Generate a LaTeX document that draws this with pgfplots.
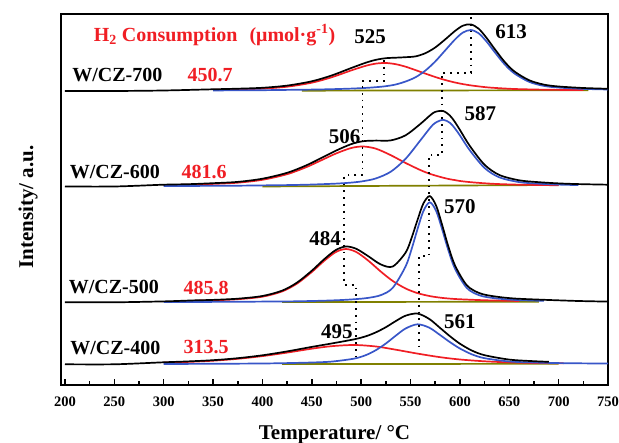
\documentclass[border=0pt]{standalone}
\usepackage{fontspec}
\setmainfont{Liberation Serif}
\usepackage{pgfplots}
\pgfplotsset{compat=1.18}
\definecolor{cred}{RGB}{240,30,36}
\definecolor{cblue}{RGB}{56,86,200}
\definecolor{colive}{RGB}{128,128,0}
\newcommand{\lbl}{\bfseries\fontsize{20}{24}\selectfont}
\newcommand{\pk}{\bfseries\fontsize{21}{24}\selectfont}
\begin{document}
\begin{tikzpicture}
\begin{axis}[
 width=547pt, height=371pt, scale only axis,
 xmin=195.95, xmax=750, ymin=58, ymax=429,
 axis line style={line width=2pt},
 xtick={200,250,...,750}, minor x tick num=1,
 xtick pos=left, tick align=inside, ytick=\empty,
 major tick length=5.5pt, minor tick length=3.5pt,
 every tick/.style={black, line width=1.5pt},
 /pgf/number format/assume math mode=true,
 xticklabel style={font=\bfseries\fontsize{14.5}{16}\selectfont, anchor=center, yshift=-17pt},
 xlabel={Temperature/ °C}, ylabel={Intensity/ a.u.},
 xlabel style={font=\bfseries\fontsize{21}{24}\selectfont, at={(axis description cs:0.5,-0.135)}, anchor=center},
 ylabel style={font=\bfseries\fontsize{21}{24}\selectfont, at={(axis description cs:-0.06,0.48)}, anchor=center},
 clip=false,
 every axis plot/.append style={line width=1.7pt},
 smooth,
]
% olive baselines
\addplot[colive, sharp plot] coordinates {(440,352.3)(730,352.8)};
\addplot[colive, sharp plot] coordinates {(400,256.5)(700,258)};
\addplot[colive, sharp plot] coordinates {(420,140.9)(680,141.3)};
\addplot[colive, sharp plot] coordinates {(420,78.9)(700,79.2)};

% ---------- W/CZ-700 ----------
\addplot[cred] coordinates {(350,353.2)(375,353.6)(400,354.4)(425,356.3)(450,360.3)(470,365.7)(490,372.6)(505,377.3)(515,379.4)(525,380.0)(535,378.8)(545,376.3)(555,372.9)(565,369.4)(575,366.0)(585,363.0)(595,360.5)(603,358.9)(611,357.6)(619,356.6)(627,355.7)(635,355.1)(645,354.5)(655,354.0)(670,353.6)(685,353.3)(700,353.1)(725,352.9)};
\addplot[cblue] coordinates {(350,352.5)(375,352.7)(400,352.8)(425,353.1)(450,353.4)(470,353.8)(490,354.4)(505,355.1)(515,355.8)(525,356.8)(535,358.5)(545,361.5)(555,365.7)(565,372.4)(575,381.5)(585,392.5)(595,403.5)(603,410.4)(611,413.0)(619,409.7)(627,401.4)(635,391.2)(645,379.0)(655,369.7)(670,361.2)(685,357.1)(700,355.4)(725,354.1)(750,353.5)};
\addplot[black] coordinates {(200,352)(250,352)(300,352.5)(350,353.7)(375,354.3)(400,355.2)(425,357.4)(450,361.7)(470,367.5)(490,375.0)(505,380.4)(515,383.2)(525,384.8)(535,385.3)(545,385.8)(555,386.6)(565,389.8)(575,395.5)(585,403.5)(595,412.0)(603,417.3)(611,418.6)(619,414.3)(627,405.1)(635,394.3)(645,381.5)(655,371.7)(670,362.8)(685,358.4)(700,356.5)(725,355.0)(750,354.2)};

% ---------- W/CZ-600 ----------
\addplot[cred] coordinates {(300,257.9)(325,258.3)(350,259.1)(375,260.3)(400,263.2)(425,268.8)(445,276.1)(460,282.9)(475,289.7)(490,295.0)(502,296.5)(515,294.3)(530,287.8)(545,280.0)(560,272.9)(570,269.0)(575,267.5)(583,265.3)(590,263.7)(595,262.9)(600,262.0)(610,260.9)(625,259.7)(640,258.9)(660,258.3)(680,258.0)(700,257.7)};
\addplot[cblue] coordinates {(300,256.9)(325,257.0)(350,257.2)(375,257.3)(400,257.6)(425,257.9)(445,258.3)(460,258.8)(475,259.4)(490,260.4)(502,261.8)(515,264.6)(530,271.3)(545,284.2)(560,302.7)(570,315.3)(575,320.1)(583,323.2)(590,320.1)(595,314.5)(600,307.6)(610,292.7)(625,275.0)(640,265.6)(660,260.9)(680,259.3)(700,258.4)(720,257.9)};
\addplot[black] coordinates {(200,256.5)(250,256.5)(300,258.3)(325,258.8)(350,259.8)(375,261.1)(400,264.3)(425,270.2)(445,277.9)(460,285.2)(475,292.6)(490,298.9)(502,301.8)(515,302.4)(530,302.6)(545,307.7)(560,319.1)(570,327.8)(575,331.1)(583,332.0)(590,327.3)(595,320.9)(600,313.1)(610,297.1)(625,278.2)(640,268.0)(660,262.7)(680,260.8)(700,259.6)(720,258.9)(750,258.3)};

% ---------- W/CZ-500 ----------
\addplot[cred] coordinates {(330,142.3)(350,142.7)(375,143.8)(400,146.3)(420,151.6)(435,159.4)(450,171.0)(462,181.7)(474,190.8)(484.5,194.0)(495,191.0)(507,182.5)(520,171.3)(532,162.0)(545,154.5)(557,149.9)(569.5,146.9)(582,145.1)(595,144.0)(610,143.3)(630,142.6)(660,142.0)};
\addplot[cblue] coordinates {(300,141.0)(330,141.0)(350,141.1)(375,141.2)(400,141.4)(420,141.5)(435,141.7)(450,142.0)(462,142.3)(474,142.7)(484.5,143.2)(495,143.9)(507,145.1)(520,147.9)(532,155.2)(545,176.6)(551,193.7)(557,213.7)(563,231.9)(569.5,240.7)(576,231.9)(582,213.7)(588,193.7)(595,174.3)(607,155.0)(620,147.6)(635,144.8)(655,143.1)(685,142.1)};
\addplot[black] coordinates {(200,140.7)(250,140.7)(300,141.6)(330,142.6)(350,143.1)(375,144.3)(400,147.0)(420,152.4)(435,160.4)(450,172.3)(462,183.3)(474,192.8)(484.5,196.5)(495,194.2)(507,186.9)(520,178.5)(532,176.5)(545,190.4)(551,204.9)(557,222.9)(563,239.5)(569.5,246.9)(576,237.1)(582,218.1)(588,197.5)(595,177.6)(607,157.7)(620,149.8)(635,146.6)(655,144.5)(685,143.2)(720,142.0)(750,141.4)};

% ---------- W/CZ-400 ----------
\addplot[cred] coordinates {(300,80.4)(325,81.1)(350,82.3)(375,84.2)(400,86.9)(425,90.4)(450,94.3)(470,96.8)(493,98.0)(515,96.5)(535,93.3)(557,89.4)(580,85.8)(600,83.5)(625,81.7)(650,80.6)(675,80.0)(705,79.7)};
\addplot[cblue] coordinates {(300,79.0)(350,79.2)(400,79.5)(425,79.9)(450,80.5)(470,81.4)(493,84.4)(505,88.0)(515,92.9)(525,99.5)(535,107.3)(545,114.5)(557,118.7)(569,115.3)(580,107.9)(590,100.8)(600,94.5)(612,88.7)(625,84.8)(650,81.5)(675,80.5)(700,79.9)(750,79.4)};
\addplot[black] coordinates {(200,78.7)(250,78.7)(300,80.7)(325,81.6)(350,82.8)(375,84.8)(400,87.7)(425,91.6)(450,96.1)(470,99.5)(493,103.7)(505,106.8)(515,110.7)(525,115.8)(535,121.9)(545,127.3)(557,129.4)(569,124.0)(580,115.0)(590,106.7)(600,99.3)(612,92.5)(625,87.8)(650,83.4)(675,81.8)(690,81.2)};

% dotted guide lines
\addplot[black, sharp plot, line width=1.8pt, dash pattern=on 1.8pt off 5pt] coordinates {(611.4,426)(611.4,370.3)(582,370.3)(582,288)(568.7,288)(568.7,187)(558.6,187)(558.6,95)};
\addplot[black, sharp plot, line width=1.8pt, dash pattern=on 1.8pt off 5pt] coordinates {(523.2,383)(523.2,362)(501.3,362)(501.3,268)(483,268)(483,158)(494.6,158)(494.6,86)};

% labels
\node[font=\lbl, text=cred] at (axis cs:351.5,408) {H\textsubscript{2} Consumption\hspace{0.6em}(μmol·g\textsuperscript{-1})};
\node[font=\lbl] at (axis cs:253,368) {W/CZ-700};
\node[font=\lbl] at (axis cs:250.5,271) {W/CZ-600};
\node[font=\lbl] at (axis cs:249.5,156) {W/CZ-500};
\node[font=\lbl] at (axis cs:251,95) {W/CZ-400};
\node[font=\lbl, text=cred] at (axis cs:347,368) {450.7};
\node[font=\lbl, text=cred] at (axis cs:340.9,271) {481.6};
\node[font=\lbl, text=cred] at (axis cs:343,155) {485.8};
\node[font=\lbl, text=cred] at (axis cs:343,96) {313.5};
\node[font=\pk] at (axis cs:509.1,406.3) {525};
\node[font=\pk] at (axis cs:652,411.3) {613};
\node[font=\pk] at (axis cs:483.3,306.3) {506};
\node[font=\pk] at (axis cs:620.7,329.7) {587};
\node[font=\pk] at (axis cs:463.6,204.7) {484};
\node[font=\pk] at (axis cs:600,236.3) {570};
\node[font=\pk] at (axis cs:475.3,111.3) {495};
\node[font=\pk] at (axis cs:600,121.3) {561};
\end{axis}
\pgfresetboundingbox
\path[use as bounding box] ([xshift=-61pt,yshift=-58pt]current axis.south west) rectangle ([xshift=11pt,yshift=14pt]current axis.north east);
\end{tikzpicture}
\end{document}
